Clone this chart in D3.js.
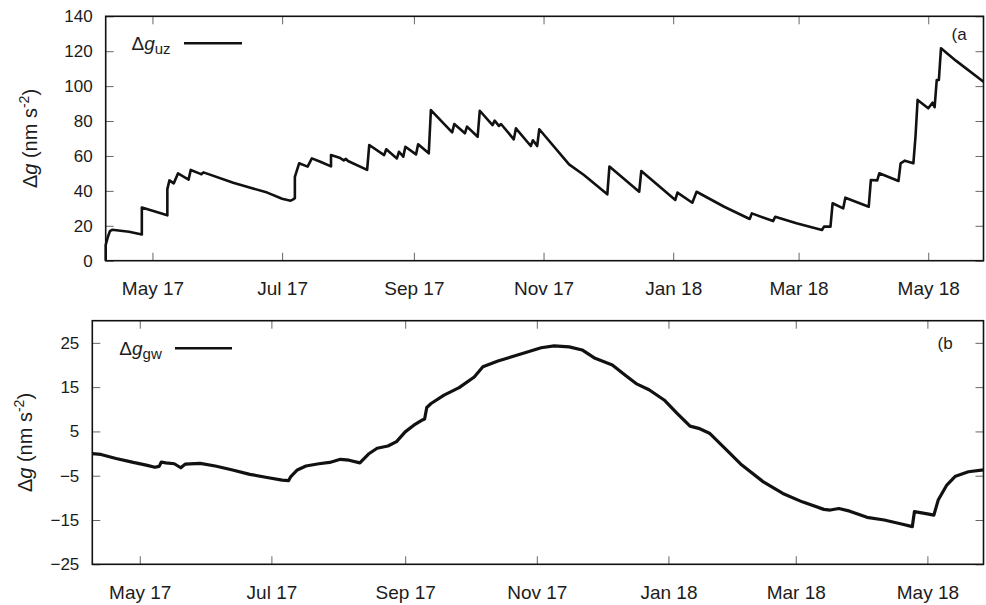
<!DOCTYPE html>
<html>
<head>
<meta charset="utf-8">
<script src="https://cdn.jsdelivr.net/npm/d3@7"></script>
<style>
  body { margin: 0; background: #fff; }
  svg { display: block; font-family: "Liberation Sans", Arial, Helvetica, sans-serif; }
</style>
</head>
<body>
<svg id="chart" width="986" height="605"></svg>
<script>
// Shared time span of both panels
const xDomain = ["2017-04-09", "2018-05-27"];

// Unsaturated-zone gravity effect (nm s^-2)
const uzDates = [
  "2017-04-09","2017-04-09","2017-04-10","2017-04-11","2017-04-12","2017-04-20","2017-04-26","2017-04-26",
  "2017-05-08","2017-05-08","2017-05-09","2017-05-11","2017-05-13","2017-05-18","2017-05-19","2017-05-23",
  "2017-05-24","2017-05-25","2017-06-08","2017-06-24","2017-07-01","2017-07-05","2017-07-06","2017-07-07",
  "2017-07-07","2017-07-09","2017-07-13","2017-07-15","2017-07-19","2017-07-24","2017-07-24","2017-07-28",
  "2017-07-30","2017-07-31","2017-08-01","2017-08-10","2017-08-11","2017-08-18","2017-08-19","2017-08-24",
  "2017-08-25","2017-08-27","2017-08-28","2017-09-02","2017-09-03","2017-09-08","2017-09-09","2017-09-19",
  "2017-09-20","2017-09-25","2017-09-26","2017-10-01","2017-10-02","2017-10-08","2017-10-09","2017-10-11",
  "2017-10-12","2017-10-18","2017-10-19","2017-10-26","2017-10-27","2017-10-29","2017-10-30","2017-11-13",
  "2017-11-20","2017-12-01","2017-12-02","2017-12-16","2017-12-17","2017-12-21","2018-01-02","2018-01-03",
  "2018-01-10","2018-01-12","2018-01-25","2018-02-06","2018-02-07","2018-02-17","2018-02-18","2018-02-28",
  "2018-03-12","2018-03-13","2018-03-16","2018-03-17","2018-03-22","2018-03-23","2018-04-03","2018-04-04",
  "2018-04-07","2018-04-08","2018-04-17","2018-04-18","2018-04-20","2018-04-24","2018-04-25","2018-04-26",
  "2018-05-01","2018-05-03","2018-05-04","2018-05-05","2018-05-06","2018-05-07","2018-05-14","2018-05-27"
];
const uzValues = [
  0, 9, 13.5, 17, 17.7, 16.6, 15.0, 30.5,
  26.0, 41.0, 46.0, 44.3, 50.0, 46.5, 52.0, 50.0,
  49.5, 50.6, 44.7, 39.0, 35.5, 34.4, 35.0, 35.8,
  48.0, 55.8, 53.9, 58.6, 56.7, 54.0, 60.5, 59.0,
  57.5, 58.3, 57.1, 52.0, 66.3, 60.5, 63.8, 58.6,
  62.4, 59.6, 65.3, 60.9, 66.7, 61.5, 86.3, 73.5,
  78.3, 73.0, 76.8, 71.0, 85.9, 77.7, 80.2, 77.2,
  78.3, 69.5, 75.8, 65.7, 69.0, 65.7, 75.3, 55.2,
  49.1, 38.0, 53.9, 39.5, 51.4, 47.2, 34.8, 39.0,
  33.2, 39.5, 30.9, 23.9, 27.1, 22.7, 25.2, 21.4,
  17.6, 19.5, 19.5, 32.9, 30.0, 36.1, 30.9, 46.2,
  46.0, 50.1, 45.7, 55.8, 57.3, 55.8, 71.0, 92.1,
  87.3, 90.5, 87.9, 103.5, 103.5, 121.7, 114.6, 102.5
];

// Groundwater gravity effect (nm s^-2)
const gwDates = [
  "2017-04-09","2017-04-13","2017-04-20","2017-04-28","2017-05-04","2017-05-08","2017-05-10","2017-05-11",
  "2017-05-13","2017-05-17","2017-05-20","2017-05-22","2017-05-29","2017-06-05","2017-06-13","2017-06-21",
  "2017-06-29","2017-07-06","2017-07-09","2017-07-10","2017-07-13","2017-07-17","2017-07-23","2017-07-28",
  "2017-08-02","2017-08-06","2017-08-11","2017-08-15","2017-08-19","2017-08-24","2017-08-28","2017-09-01",
  "2017-09-05","2017-09-09","2017-09-10","2017-09-11","2017-09-13","2017-09-19","2017-09-26","2017-10-03",
  "2017-10-07","2017-10-14","2017-10-20","2017-10-28","2017-11-03","2017-11-09","2017-11-16","2017-11-22",
  "2017-11-28","2017-12-06","2017-12-12","2017-12-17","2017-12-23","2017-12-30","2018-01-05","2018-01-11",
  "2018-01-15","2018-01-20","2018-01-28","2018-02-04","2018-02-14","2018-02-23","2018-03-04","2018-03-14",
  "2018-03-17","2018-03-21","2018-03-26","2018-04-03","2018-04-11","2018-04-19","2018-04-24","2018-04-25",
  "2018-05-01","2018-05-04","2018-05-06","2018-05-10","2018-05-14","2018-05-20","2018-05-27"
];
const gwValues = [
  0.0, -0.2, -1.1, -2.0, -2.6, -3.1, -2.9, -1.9,
  -2.1, -2.3, -3.2, -2.4, -2.2, -2.8, -3.7, -4.7,
  -5.4, -6.0, -6.1, -5.2, -3.7, -2.8, -2.3, -2.0,
  -1.3, -1.5, -2.1, -0.1, 1.2, 1.7, 2.7, 4.9,
  6.4, 7.6, 7.8, 10.4, 11.3, 13.2, 14.9, 17.3,
  19.6, 20.9, 21.8, 23.0, 23.9, 24.3, 24.1, 23.4,
  21.5, 20.0, 17.7, 15.8, 14.4, 12.1, 9.1, 6.2,
  5.7, 4.6, 0.8, -2.6, -6.4, -9.0, -10.9, -12.6,
  -12.75, -12.4, -13.0, -14.4, -15.0, -15.9, -16.5, -13.1,
  -13.6, -13.9, -10.5, -7.1, -5.1, -4.1, -3.7
];

// Axis ranges and tick values
const uzRange = [0, 140];
const uzTicks = [0, 20, 40, 60, 80, 100, 120, 140];
const gwRange = [-25, 30];
const gwTicks = [-25, -15, -5, 5, 15, 25];

const parse = d3.timeParse("%Y-%m-%d");
const fmt = d3.timeFormat("%b %y");
const svg = d3.select("#chart");

const panels = [
  { dates: uzDates, values: uzValues, yDom: uzRange, yTicks: uzTicks, width: 2.6,
    left: 105.7, right: 983.5, top: 16.3, bottom: 260.7,
    sub: "uz", tag: "(a", tagX: 951.5, tagY: 40,
    legX: 131.5, legY: 49.5, lineX: [184, 242], lineY: 43.3, titleX: 37 },
  { dates: gwDates, values: gwValues, yDom: gwRange, yTicks: gwTicks, width: 3.2,
    left: 92.3, right: 983.5, top: 320.7, bottom: 564.3,
    sub: "gw", tag: "(b", tagX: 937.5, tagY: 349,
    legX: 119.3, legY: 355, lineX: [175, 232], lineY: 348.3, titleX: 32 }
];

const tickColor = "#666";
const textColor = "#1c1c1c";

panels.forEach(p => {
  const x = d3.scaleTime().domain(xDomain.map(parse)).range([p.left, p.right]);
  const y = d3.scaleLinear().domain(p.yDom).range([p.bottom, p.top]);
  const g = svg.append("g");

  const styleAxis = sel => {
    sel.select(".domain").remove();
    sel.selectAll(".tick line").attr("stroke", tickColor).attr("stroke-width", 1);
    sel.selectAll(".tick text").attr("fill", textColor).attr("font-family", null);
  };

  // bottom axis with labels, mirrored ticks on top
  g.append("g").attr("transform", `translate(0,${p.bottom})`)
    .call(d3.axisBottom(x).ticks(d3.timeMonth.every(2)).tickFormat(fmt)
      .tickSizeInner(-8).tickSizeOuter(0).tickPadding(21))
    .attr("font-size", 19).call(styleAxis);
  g.append("g").attr("transform", `translate(0,${p.top})`)
    .call(d3.axisTop(x).ticks(d3.timeMonth.every(2)).tickFormat("")
      .tickSizeInner(-8).tickSizeOuter(0))
    .call(styleAxis);

  // left axis with labels, mirrored ticks on right
  g.append("g").attr("transform", `translate(${p.left},0)`)
    .call(d3.axisLeft(y).tickValues(p.yTicks).tickSizeInner(-8).tickSizeOuter(0).tickPadding(13))
    .attr("font-size", 17).call(styleAxis);
  g.append("g").attr("transform", `translate(${p.right},0)`)
    .call(d3.axisRight(y).tickValues(p.yTicks).tickFormat("").tickSizeInner(-8).tickSizeOuter(0))
    .call(styleAxis);

  // frame
  g.append("rect")
    .attr("x", p.left).attr("y", p.top)
    .attr("width", p.right - p.left).attr("height", p.bottom - p.top)
    .attr("fill", "none").attr("stroke", "#111").attr("stroke-width", 1.6);

  // series line
  const pts = p.dates.map((d, i) => [parse(d), p.values[i]]);
  g.append("path")
    .datum(pts)
    .attr("fill", "none")
    .attr("stroke", "#111")
    .attr("stroke-width", p.width)
    .attr("stroke-linejoin", "round")
    .attr("d", d3.line().x(d => x(d[0])).y(d => y(d[1])));

  // y-axis title: Δg (nm s^-2)
  const t = g.append("text")
    .attr("transform", `translate(${p.titleX},${(p.top + p.bottom) / 2}) rotate(-90)`)
    .attr("text-anchor", "middle")
    .attr("font-size", 20)
    .attr("fill", textColor);
  t.append("tspan").text("Δ");
  t.append("tspan").attr("font-style", "italic").text("g");
  t.append("tspan").text(" (nm s");
  t.append("tspan").attr("font-size", 14).attr("dy", -8).text("-2");
  t.append("tspan").attr("dy", 8).text(")");

  // legend entry
  const lt = g.append("text")
    .attr("x", p.legX).attr("y", p.legY)
    .attr("font-size", 19).attr("fill", textColor);
  lt.append("tspan").text("Δ");
  lt.append("tspan").attr("font-style", "italic").text("g");
  lt.append("tspan").attr("font-size", 15).attr("dy", 4).text(p.sub);
  g.append("line")
    .attr("x1", p.lineX[0]).attr("x2", p.lineX[1])
    .attr("y1", p.lineY).attr("y2", p.lineY)
    .attr("stroke", "#111").attr("stroke-width", 2.6);

  // panel tag
  g.append("text")
    .attr("x", p.tagX).attr("y", p.tagY)
    .attr("font-size", 17).attr("fill", textColor)
    .text(p.tag);
});
</script>
</body>
</html>
